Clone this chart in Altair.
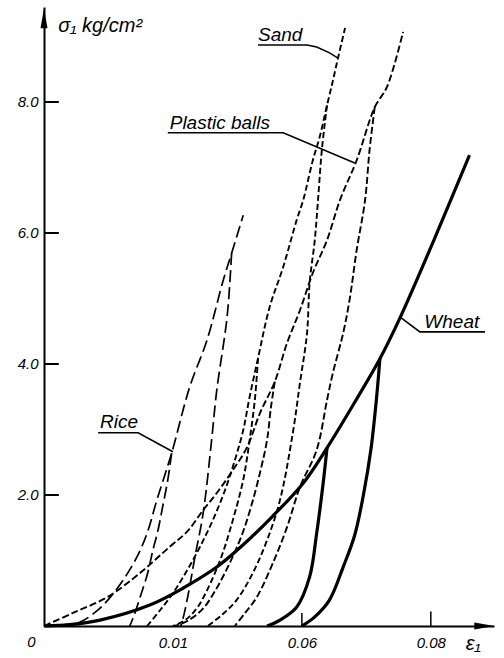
import altair as alt
import pandas as pd

# ---- curves (strain e1, stress s1 in kg/cm^2) ----
wheat_x = [0, 0.0040, 0.0087, 0.0164, 0.0216, 0.0268, 0.0309, 0.0353, 0.0402, 0.0439, 0.0481, 0.0521, 0.0552, 0.0603, 0.0660]
wheat_y = [0, 0.02, 0.09, 0.32, 0.58, 0.90, 1.24, 1.66, 2.18, 2.72, 3.40, 4.08, 4.70, 5.85, 7.19]
wheat_u1_x = [0.0439, 0.0433, 0.0423, 0.0412, 0.0392, 0.0366, 0.0346]
wheat_u1_y = [2.72, 2.18, 1.42, 0.75, 0.29, 0.09, 0]
wheat_u2_x = [0.0521, 0.0516, 0.0507, 0.0496, 0.0482, 0.0464, 0.0443, 0.0420, 0.0400]
wheat_u2_y = [4.08, 3.50, 2.69, 2.03, 1.39, 0.90, 0.40, 0.14, 0]

rice_x = [0, 0.0033, 0.0056, 0.0082, 0.0102, 0.0122, 0.0144, 0.0160, 0.0175, 0.0198, 0.0226, 0.0253, 0.0278, 0.0291, 0.0309]
rice_y = [0, 0.02, 0.06, 0.23, 0.43, 0.69, 1.05, 1.42, 1.92, 2.64, 3.65, 4.37, 5.28, 5.69, 6.27]
rice_u1_x = [0.0198, 0.0192, 0.0184, 0.0177, 0.0169, 0.0160, 0.0149, 0.0140, 0.0133]
rice_u1_y = [2.64, 2.23, 1.82, 1.47, 1.16, 0.78, 0.44, 0.17, 0]
rice_u2_x = [0.0291, 0.0284, 0.0268, 0.0260, 0.0247, 0.0234, 0.0225, 0.0217, 0.0212]
rice_u2_y = [5.69, 4.72, 3.60, 2.84, 1.73, 1.05, 0.55, 0.17, 0]

plastic_x = [0, 0.0045, 0.0098, 0.0149, 0.0195, 0.0222, 0.0247, 0.0268, 0.0293, 0.0315, 0.0335, 0.0358, 0.0377, 0.0397, 0.0417, 0.0439, 0.0459, 0.0485, 0.0513, 0.0532, 0.0557]
plastic_y = [0, 0.20, 0.44, 0.81, 1.21, 1.44, 1.77, 2.03, 2.38, 2.73, 3.25, 3.73, 4.32, 4.82, 5.39, 5.89, 6.50, 7.11, 7.92, 8.23, 9.07]
plastic_u1_x = [0.0358, 0.0352, 0.0346, 0.0336, 0.0322, 0.0307, 0.0288, 0.0268, 0.0247, 0.0223, 0.0203]
plastic_u1_y = [3.73, 3.34, 2.84, 2.38, 1.85, 1.39, 0.96, 0.58, 0.27, 0.08, 0]
plastic_u2_x = [0.0513, 0.0505, 0.0498, 0.0485, 0.0474, 0.0464, 0.0448, 0.0439, 0.0423, 0.0397, 0.0377, 0.0355, 0.0330, 0.0312, 0.0296]
plastic_u2_y = [7.92, 7.27, 6.50, 5.74, 4.98, 4.47, 3.86, 3.45, 2.69, 2.12, 1.51, 0.96, 0.44, 0.20, 0]

sand_x = [0.0160, 0.0180, 0.0200, 0.0222, 0.0242, 0.0262, 0.0281, 0.0296, 0.0309, 0.0319, 0.0332, 0.0350, 0.0371, 0.0392, 0.0402, 0.0417, 0.0428, 0.0439, 0.0448, 0.0456, 0.0467]
sand_y = [0, 0.24, 0.50, 0.85, 1.21, 1.62, 2.08, 2.53, 2.99, 3.50, 4.09, 4.87, 5.48, 6.20, 6.50, 7.11, 7.48, 7.95, 8.32, 8.67, 9.13]
sand_u1_x = [0.0332, 0.0327, 0.0319, 0.0309, 0.0293, 0.0276, 0.0257, 0.0237, 0.0219, 0.0200]
sand_u1_y = [4.09, 3.45, 2.84, 2.23, 1.62, 1.08, 0.63, 0.27, 0.09, 0]
sand_u2_x = [0.0439, 0.0431, 0.0425, 0.0420, 0.0412, 0.0408, 0.0397, 0.0386, 0.0366, 0.0346, 0.0324, 0.0299, 0.0276, 0.0254]
sand_u2_y = [7.95, 7.27, 6.50, 5.89, 5.24, 4.47, 3.71, 2.95, 1.92, 1.31, 0.81, 0.40, 0.17, 0]

# axis tick values and labels
y_ticks = [2, 4, 6, 8]
x_ticks = [0.02, 0.04, 0.06]
x_tick_labels = ["0.01", "0.06", "0.08"]

# label texts and their leader lines
label_texts = ["Sand", "Plastic balls", "Wheat", "Rice"]
label_x = [0.0332, 0.0195, 0.0590, 0.0087]
label_y = [8.93, 7.59, 4.55, 3.02]
leader_sand_x = [0.0332, 0.0408, 0.0423, 0.0443, 0.0456]
leader_sand_y = [8.87, 8.87, 8.84, 8.75, 8.67]
leader_plastic_x = [0.0192, 0.0371, 0.0482]
leader_plastic_y = [7.53, 7.53, 7.07]
leader_wheat_x = [0.0552, 0.0583, 0.0684]
leader_wheat_y = [4.72, 4.49, 4.49]
leader_rice_x = [0.0084, 0.0146, 0.0200]
leader_rice_y = [2.95, 2.95, 2.66]

FONT = "Liberation Sans"

curves = [
    ("Wheat", "w0", wheat_x, wheat_y), ("Wheat", "w1", wheat_u1_x, wheat_u1_y), ("Wheat", "w2", wheat_u2_x, wheat_u2_y),
    ("Rice", "r0", rice_x, rice_y), ("Rice", "r1", rice_u1_x, rice_u1_y), ("Rice", "r2", rice_u2_x, rice_u2_y),
    ("Plastic", "p0", plastic_x, plastic_y), ("Plastic", "p1", plastic_u1_x, plastic_u1_y), ("Plastic", "p2", plastic_u2_x, plastic_u2_y),
    ("Sand", "s0", sand_x, sand_y), ("Sand", "s1", sand_u1_x, sand_u1_y), ("Sand", "s2", sand_u2_x, sand_u2_y),
]
rows = []
for mat, name, xs_, ys_ in curves:
    for i, (a, b) in enumerate(zip(xs_, ys_)):
        rows.append({"material": mat, "curve": name, "i": i, "x": a, "y": b})
df = pd.DataFrame(rows)

lrows = []
for name, xs_, ys_ in [("ls", leader_sand_x, leader_sand_y), ("lp", leader_plastic_x, leader_plastic_y),
                       ("lw", leader_wheat_x, leader_wheat_y), ("lr", leader_rice_x, leader_rice_y)]:
    for i, (a, b) in enumerate(zip(xs_, ys_)):
        lrows.append({"curve": name, "i": i, "x": a, "y": b})
ldf = pd.DataFrame(lrows)

tdf = pd.DataFrame({"text": label_texts, "x": label_x, "y": label_y})

xscale = alt.Scale(domain=[0, 0.0698], nice=False, zero=False)
yscale = alt.Scale(domain=[0, 9.45], nice=False, zero=False)

label_expr = " : ".join(
    [f"datum.value < {v + 0.01:.2f} ? '{l}'" for v, l in zip(x_ticks[:-1], x_tick_labels[:-1])]
) + f" : '{x_tick_labels[-1]}'"

x_axis = alt.Axis(values=x_ticks, labelExpr=label_expr, title=None, ticks=False, tickSize=0, grid=False,
                  domainColor="black", domainWidth=2, labelFont=FONT, labelFontStyle="italic",
                  labelFontSize=15, labelColor="black", labelPadding=9)
y_axis = alt.Axis(values=y_ticks, format=".1f", title=None, ticks=False, tickSize=0, grid=False,
                  domainColor="black", domainWidth=2, labelFont=FONT, labelFontStyle="italic",
                  labelFontSize=15, labelColor="black", labelPadding=6)

X = alt.X("x:Q", scale=xscale, axis=x_axis)
Y = alt.Y("y:Q", scale=yscale, axis=y_axis)


def curve_layer(mat, width, dash=None):
    kw = dict(color="black", strokeWidth=width, interpolate="catmull-rom", clip=False)
    if dash:
        kw["strokeDash"] = dash
    return alt.Chart(df).transform_filter(alt.datum.material == mat).mark_line(**kw).encode(
        x=X, y=Y, detail="curve:N", order="i:Q")


wheat = curve_layer("Wheat", 3.2)
rice = curve_layer("Rice", 1.7, [12, 5])
plastic = curve_layer("Plastic", 1.9, [7, 3])
sand = curve_layer("Sand", 1.9, [6, 3])

leaders = alt.Chart(ldf).mark_line(color="black", strokeWidth=1.6).encode(x=X, y=Y, detail="curve:N", order="i:Q")

labels = alt.Chart(tdf).mark_text(align="left", baseline="alphabetic", font=FONT, fontStyle="italic",
                                  fontSize=19, color="black").encode(x=X, y=Y, text="text:N")

misc_text = pd.DataFrame({"text": ["σ₁ kg/cm²", "ε₁", "0"], "x": [0.0022, 0.0654, -0.0026],
                          "y": [9.07, -0.36, -0.32], "fs": [20, 20, 15]})
misc = alt.Chart(misc_text).mark_text(align="left", baseline="alphabetic", font=FONT, fontStyle="italic",
                                      color="black").encode(x=X, y=Y, text="text:N",
                                                            size=alt.Size("fs:Q", scale=None, legend=None))

ytick_df = pd.DataFrame({"y": y_ticks, "x": [0] * len(y_ticks), "x2": [0.0023] * len(y_ticks)})
yticks = alt.Chart(ytick_df).mark_rule(color="black", strokeWidth=2).encode(x=X, x2="x2:Q", y=Y)

xtick_df = pd.DataFrame({"x": x_ticks[1:], "y": [0, 0], "y2": [0.2, 0.22]})
xticks = alt.Chart(xtick_df).mark_rule(color="black", strokeWidth=1.5).encode(x=X, y=Y, y2="y2:Q")

arrow_up = alt.Chart(pd.DataFrame({"x": [0], "y": [9.28]})).mark_point(
    shape="M0,-1L0.35,1L-0.35,1Z", filled=True, color="black", opacity=1, size=400, clip=False).encode(x=X, y=Y)
arrow_right = alt.Chart(pd.DataFrame({"x": [0.0683], "y": [0]})).mark_point(
    shape="M1,0L-1,-0.35L-1,0.35Z", filled=True, color="black", opacity=1, size=400, clip=False).encode(x=X, y=Y)

chart = alt.layer(wheat, rice, plastic, sand, leaders, labels, misc, yticks, xticks, arrow_up, arrow_right).properties(
    width=450, height=619, autosize="none",
    padding={"left": 44, "top": 7, "right": 10, "bottom": 32},
    background="white",
).configure_view(stroke=None)

chart.save("out.html", embed_options={"renderer": "svg", "actions": False})
